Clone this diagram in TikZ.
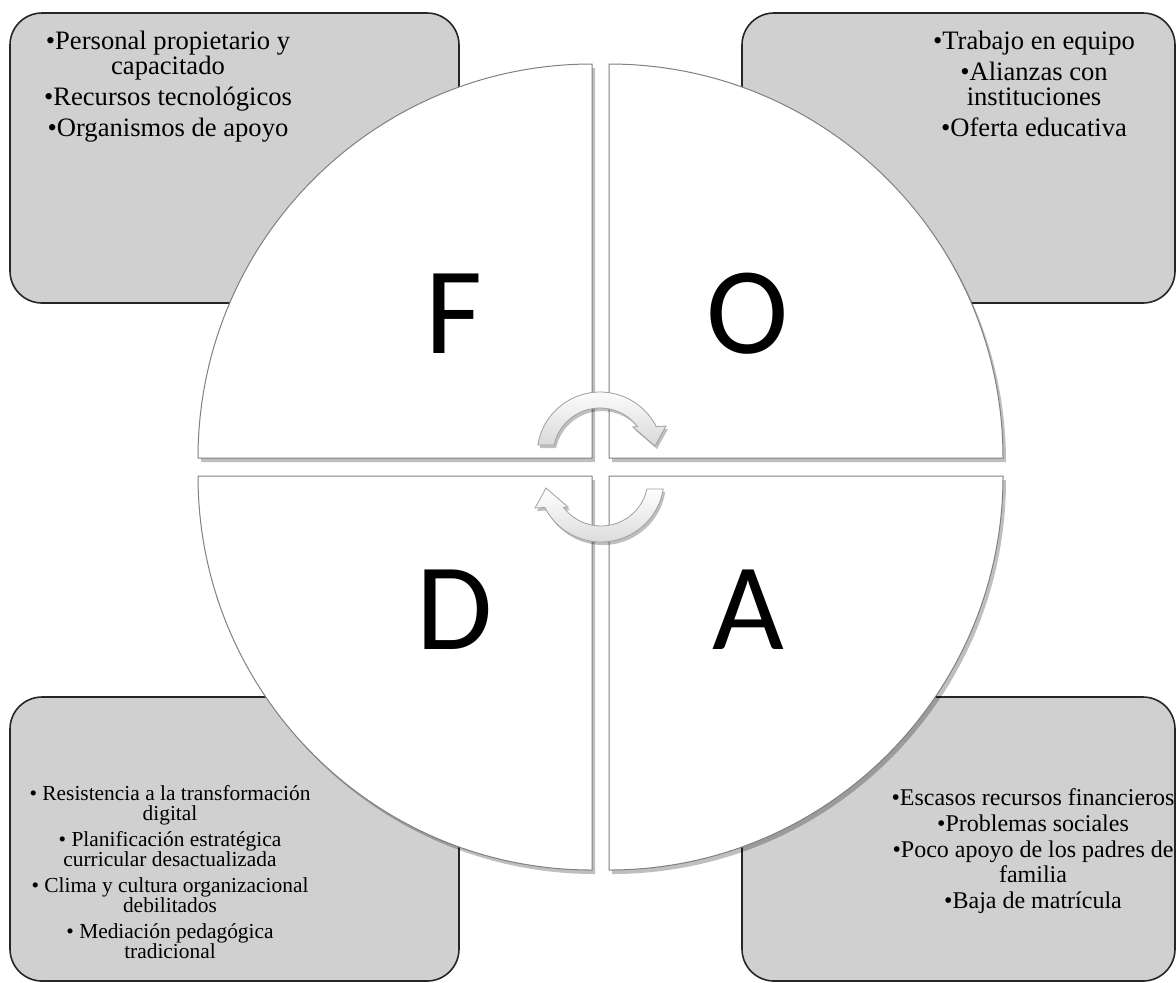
\documentclass[tikz,border=0pt]{standalone}
\usepackage{fontspec}
\setmainfont{Liberation Serif}
\newfontfamily\letterfont{Carlito}
\usepackage{tikz}
\usetikzlibrary{shadows}
\definecolor{boxgray}{HTML}{D0D0D0}
\definecolor{rimgray}{HTML}{808080}

\begin{document}
\begin{tikzpicture}[
    x=0.5pt, y=-0.5pt,
    box/.style={draw=black!85, line width=0.8pt, fill=boxgray, rounded corners=16pt},
    quarter/.style={draw=rimgray, line width=0.5pt, fill=white,
        drop shadow={shadow xshift=1.5pt, shadow yshift=-2pt, opacity=0.25, fill=black}},
    letter/.style={anchor=base, font=\letterfont\fontsize{62}{62}\selectfont},
    bigtext/.style={anchor=base, align=center, font=\fontsize{13.3}{12.5}\selectfont},
    midtext/.style={anchor=base, align=center, font=\fontsize{12}{12.5}\selectfont},
    smalltext/.style={anchor=base, align=center, font=\fontsize{10.7}{10}\selectfont},
    turn/.style={draw=gray!75, line width=0.4pt, top color=white, bottom color=gray!30,
        drop shadow={shadow xshift=1pt, shadow yshift=-1.5pt, opacity=0.25, fill=black}},
    cyclearrow/.pic={
        \path[turn, shift={(-0.5,-12)}] (-170.9:63) arc[start angle=-170.9, end angle=-26.9, radius=63]
            -- (66,-29) -- (55,-9) -- (33,-28) -- (-37.3:47)
            arc[start angle=-37.3, end angle=-167.7, radius=47] -- cycle;
    }
]
\useasboundingbox (0,0) rectangle (1176,982);
\clip (0,0) rectangle (1176,982);

% boxes
\node[box, minimum width=224.5pt, minimum height=145pt] (fbox) at (234.5,158) {};
\node[box, minimum width=216.5pt, minimum height=145pt] (obox) at (958.5,158) {};
\node[box, minimum width=224.5pt, minimum height=142pt] (dbox) at (234.5,839) {};
\node[box, minimum width=216.5pt, minimum height=142pt] (abox) at (958.5,839) {};

% texts sit on the baseline of their last line
\node[bigtext] (ftext) at (168,136) {•Personal propietario y\\ capacitado\\[3pt] •Recursos tecnológicos\\[3pt] •Organismos de apoyo};
\node[bigtext] (otext) at (1034,136) {•Trabajo en equipo\\[3pt] •Alianzas con\\ instituciones\\[3pt] •Oferta educativa};
\node[smalltext] (dtext) at (170,958) {• Resistencia a la transformación\\ digital\\[3pt] • Planificación estratégica\\ curricular desactualizada\\[3pt] • Clima y cultura organizacional\\ debilitados\\[3pt] • Mediación pedagógica\\ tradicional};
\node[midtext] (atext) at (1033,908) {•Escasos recursos financieros\\[0.5pt] •Problemas sociales\\[0.5pt] •Poco apoyo de los padres de\\ familia\\[0.5pt] •Baja de matrícula};

% circle in four parts
\path[quarter] (592,458) -- ++(-394,0) arc[start angle=180, end angle=270, radius=394] -- cycle;
\path[quarter] (609,458) -- ++(0,-394) arc[start angle=270, end angle=360, radius=394] -- cycle;
\path[quarter] (592,476) -- ++(0,394) arc[start angle=90, end angle=180, radius=394] -- cycle;
\path[quarter] (609,476) -- ++(394,0) arc[start angle=0, end angle=90, radius=394] -- cycle;

\node[letter] (fletter) at (454,353) {F};
\node[letter] (oletter) at (748,353) {O};
\node[letter] (dletter) at (455,649) {D};
\node[letter] (aletter) at (748.5,649) {A};

% turning arrows
\pic at (600.5,467) {cyclearrow};
\pic[rotate=180] at (600.5,467) {cyclearrow};
\end{tikzpicture}
\end{document}
